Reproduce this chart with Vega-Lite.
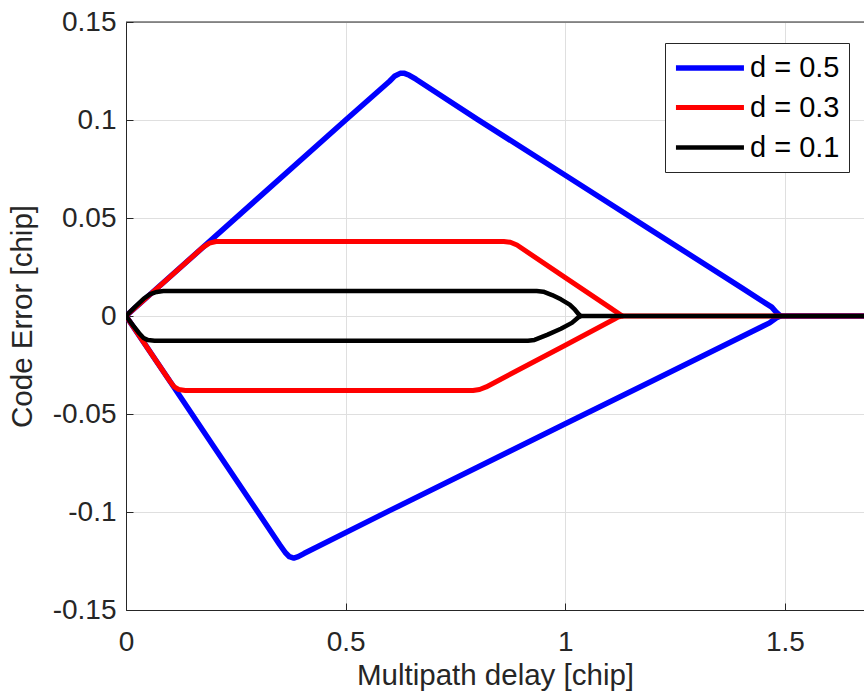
{
  "$schema": "https://vega.github.io/schema/vega-lite/v6.json",
  "width": 738,
  "height": 588,
  "autosize": {"type": "none"},
  "padding": {"left": 126, "top": 22, "right": 0, "bottom": 90},
  "background": "white",
  "config": {
    "view": {"stroke": null},
    "font": "Liberation Sans",
    "axis": {
      "domainColor": "#262626",
      "domainWidth": 1,
      "tickColor": "#262626",
      "tickSize": -7,
      "tickWidth": 1,
      "labelColor": "#262626",
      "labelFontSize": 28,
      "labelFont": "Liberation Sans",
      "titleColor": "#262626",
      "titleFont": "Liberation Sans",
      "titleFontSize": 29.5,
      "titleFontWeight": "normal",
      "grid": true,
      "gridColor": "#dfdfdf",
      "gridWidth": 1,
      "labelFlush": false,
      "labelOverlap": false
    },
    "legend": {
      "orient": "none",
      "legendX": 539,
      "legendY": 21,
      "title": null,
      "padding": 9,
      "rowPadding": 9,
      "strokeColor": "#262626",
      "fillColor": "white",
      "labelFont": "Liberation Sans",
      "labelFontSize": 29,
      "labelColor": "#000000",
      "labelOffset": 44,
      "symbolType": "M-1.08,0H4.15",
      "symbolSize": 676
    }
  },
  "data": {
    "values": [
      {"s": "d = 0.5", "b": "upper", "x": 0, "y": 0},
      {"s": "d = 0.5", "b": "upper", "x": 0.1, "y": 0.02},
      {"s": "d = 0.5", "b": "upper", "x": 0.3, "y": 0.06},
      {"s": "d = 0.5", "b": "upper", "x": 0.5, "y": 0.1},
      {"s": "d = 0.5", "b": "upper", "x": 0.6, "y": 0.1198},
      {"s": "d = 0.5", "b": "upper", "x": 0.612, "y": 0.1225},
      {"s": "d = 0.5", "b": "upper", "x": 0.624, "y": 0.1238},
      {"s": "d = 0.5", "b": "upper", "x": 0.634, "y": 0.1238},
      {"s": "d = 0.5", "b": "upper", "x": 0.645, "y": 0.1228},
      {"s": "d = 0.5", "b": "upper", "x": 0.66, "y": 0.1208},
      {"s": "d = 0.5", "b": "upper", "x": 0.8, "y": 0.1003},
      {"s": "d = 0.5", "b": "upper", "x": 1.0, "y": 0.0718},
      {"s": "d = 0.5", "b": "upper", "x": 1.2, "y": 0.0432},
      {"s": "d = 0.5", "b": "upper", "x": 1.4, "y": 0.0146},
      {"s": "d = 0.5", "b": "upper", "x": 1.47, "y": 0.0045},
      {"s": "d = 0.5", "b": "upper", "x": 1.48, "y": 0.002},
      {"s": "d = 0.5", "b": "upper", "x": 1.49, "y": 0},
      {"s": "d = 0.5", "b": "upper", "x": 1.7, "y": 0},
      {"s": "d = 0.5", "b": "lower", "x": 0, "y": 0},
      {"s": "d = 0.5", "b": "lower", "x": 0.1, "y": -0.0333},
      {"s": "d = 0.5", "b": "lower", "x": 0.2, "y": -0.0667},
      {"s": "d = 0.5", "b": "lower", "x": 0.3, "y": -0.1},
      {"s": "d = 0.5", "b": "lower", "x": 0.35, "y": -0.1167},
      {"s": "d = 0.5", "b": "lower", "x": 0.363, "y": -0.1208},
      {"s": "d = 0.5", "b": "lower", "x": 0.372, "y": -0.1228},
      {"s": "d = 0.5", "b": "lower", "x": 0.382, "y": -0.1235},
      {"s": "d = 0.5", "b": "lower", "x": 0.392, "y": -0.1228},
      {"s": "d = 0.5", "b": "lower", "x": 0.405, "y": -0.1212},
      {"s": "d = 0.5", "b": "lower", "x": 0.6, "y": -0.0993},
      {"s": "d = 0.5", "b": "lower", "x": 0.8, "y": -0.0772},
      {"s": "d = 0.5", "b": "lower", "x": 1.0, "y": -0.055},
      {"s": "d = 0.5", "b": "lower", "x": 1.2, "y": -0.0329},
      {"s": "d = 0.5", "b": "lower", "x": 1.4, "y": -0.0107},
      {"s": "d = 0.5", "b": "lower", "x": 1.465, "y": -0.0035},
      {"s": "d = 0.5", "b": "lower", "x": 1.48, "y": -0.001},
      {"s": "d = 0.5", "b": "lower", "x": 1.49, "y": 0},
      {"s": "d = 0.3", "b": "upper", "x": 0, "y": 0},
      {"s": "d = 0.3", "b": "upper", "x": 0.1, "y": 0.02},
      {"s": "d = 0.3", "b": "upper", "x": 0.175, "y": 0.035},
      {"s": "d = 0.3", "b": "upper", "x": 0.19, "y": 0.0372},
      {"s": "d = 0.3", "b": "upper", "x": 0.205, "y": 0.038},
      {"s": "d = 0.3", "b": "upper", "x": 0.5, "y": 0.038},
      {"s": "d = 0.3", "b": "upper", "x": 0.86, "y": 0.038},
      {"s": "d = 0.3", "b": "upper", "x": 0.875, "y": 0.0376},
      {"s": "d = 0.3", "b": "upper", "x": 0.89, "y": 0.0362},
      {"s": "d = 0.3", "b": "upper", "x": 1.0, "y": 0.0196},
      {"s": "d = 0.3", "b": "upper", "x": 1.1, "y": 0.0045},
      {"s": "d = 0.3", "b": "upper", "x": 1.12, "y": 0.0015},
      {"s": "d = 0.3", "b": "upper", "x": 1.13, "y": 0},
      {"s": "d = 0.3", "b": "upper", "x": 1.7, "y": 0},
      {"s": "d = 0.3", "b": "lower", "x": 0, "y": 0},
      {"s": "d = 0.3", "b": "lower", "x": 0.05, "y": -0.0167},
      {"s": "d = 0.3", "b": "lower", "x": 0.1, "y": -0.0333},
      {"s": "d = 0.3", "b": "lower", "x": 0.11, "y": -0.0362},
      {"s": "d = 0.3", "b": "lower", "x": 0.12, "y": -0.0375},
      {"s": "d = 0.3", "b": "lower", "x": 0.135, "y": -0.038},
      {"s": "d = 0.3", "b": "lower", "x": 0.5, "y": -0.038},
      {"s": "d = 0.3", "b": "lower", "x": 0.79, "y": -0.038},
      {"s": "d = 0.3", "b": "lower", "x": 0.805, "y": -0.0375},
      {"s": "d = 0.3", "b": "lower", "x": 0.82, "y": -0.0362},
      {"s": "d = 0.3", "b": "lower", "x": 1.0, "y": -0.0149},
      {"s": "d = 0.3", "b": "lower", "x": 1.11, "y": -0.0018},
      {"s": "d = 0.3", "b": "lower", "x": 1.12, "y": -0.0005},
      {"s": "d = 0.3", "b": "lower", "x": 1.13, "y": 0},
      {"s": "d = 0.1", "b": "upper", "x": 0, "y": 0},
      {"s": "d = 0.1", "b": "upper", "x": 0.02, "y": 0.0045},
      {"s": "d = 0.1", "b": "upper", "x": 0.04, "y": 0.0088},
      {"s": "d = 0.1", "b": "upper", "x": 0.055, "y": 0.0112},
      {"s": "d = 0.1", "b": "upper", "x": 0.07, "y": 0.0123},
      {"s": "d = 0.1", "b": "upper", "x": 0.085, "y": 0.0127},
      {"s": "d = 0.1", "b": "upper", "x": 0.5, "y": 0.0127},
      {"s": "d = 0.1", "b": "upper", "x": 0.935, "y": 0.0127},
      {"s": "d = 0.1", "b": "upper", "x": 0.95, "y": 0.0124},
      {"s": "d = 0.1", "b": "upper", "x": 0.97, "y": 0.0107},
      {"s": "d = 0.1", "b": "upper", "x": 0.99, "y": 0.0085},
      {"s": "d = 0.1", "b": "upper", "x": 1.01, "y": 0.0058},
      {"s": "d = 0.1", "b": "upper", "x": 1.022, "y": 0.0032},
      {"s": "d = 0.1", "b": "upper", "x": 1.03, "y": 0.001},
      {"s": "d = 0.1", "b": "upper", "x": 1.035, "y": 0},
      {"s": "d = 0.1", "b": "upper", "x": 1.7, "y": 0},
      {"s": "d = 0.1", "b": "lower", "x": 0, "y": 0},
      {"s": "d = 0.1", "b": "lower", "x": 0.015, "y": -0.0045},
      {"s": "d = 0.1", "b": "lower", "x": 0.03, "y": -0.0088},
      {"s": "d = 0.1", "b": "lower", "x": 0.04, "y": -0.0112},
      {"s": "d = 0.1", "b": "lower", "x": 0.05, "y": -0.0123},
      {"s": "d = 0.1", "b": "lower", "x": 0.065, "y": -0.0126},
      {"s": "d = 0.1", "b": "lower", "x": 0.5, "y": -0.0126},
      {"s": "d = 0.1", "b": "lower", "x": 0.915, "y": -0.0126},
      {"s": "d = 0.1", "b": "lower", "x": 0.93, "y": -0.0122},
      {"s": "d = 0.1", "b": "lower", "x": 0.96, "y": -0.0095},
      {"s": "d = 0.1", "b": "lower", "x": 0.99, "y": -0.0065},
      {"s": "d = 0.1", "b": "lower", "x": 1.015, "y": -0.0035},
      {"s": "d = 0.1", "b": "lower", "x": 1.028, "y": -0.001},
      {"s": "d = 0.1", "b": "lower", "x": 1.035, "y": 0}
    ]
  },
  "layer": [
    {
      "encoding": {
        "x": {
          "field": "x",
          "type": "quantitative",
          "title": "Multipath delay [chip]",
          "scale": {"domain": [0, 1.68], "nice": false, "zero": false},
          "axis": {
            "values": [0, 0.5, 1, 1.5],
            "labelPadding": 25,
            "titlePadding": 5,
            "labelExpr": "format(datum.value, '~g')"
          }
        },
        "y": {
          "field": "y",
          "type": "quantitative",
          "title": "Code Error [chip]",
          "scale": {"domain": [-0.15, 0.15], "nice": false, "zero": false},
          "axis": {
            "values": [-0.15, -0.1, -0.05, 0, 0.05, 0.1, 0.15],
            "labelPadding": 17,
            "titlePadding": 15,
            "labelExpr": "datum.value < 0 ? '-' + format(-datum.value, '~g') : format(datum.value, '~g')"
          }
        },
        "color": {
          "field": "s",
          "type": "nominal",
          "scale": {"domain": ["d = 0.5", "d = 0.3", "d = 0.1"], "range": ["#0000ff", "#ff0000", "#000000"]}
        },
        "strokeWidth": {
          "field": "s",
          "type": "nominal",
          "scale": {"domain": ["d = 0.5", "d = 0.3", "d = 0.1"], "range": [5.5, 4.5, 3.5]}
        },
        "detail": {"field": "b", "type": "nominal"}
      },
      "layer": [
        {
          "transform": [{"filter": "datum.s === 'd = 0.5'"}],
          "mark": {"type": "line", "strokeCap": "round", "strokeJoin": "round", "clip": true}
        },
        {
          "transform": [{"filter": "datum.s === 'd = 0.3'"}],
          "mark": {"type": "line", "strokeCap": "round", "strokeJoin": "round", "clip": true}
        },
        {
          "transform": [{"filter": "datum.s === 'd = 0.1'"}],
          "mark": {"type": "line", "strokeCap": "round", "strokeJoin": "round", "clip": true}
        }
      ]
    },
    {
      "data": {"values": [{"edge": 0.15}]},
      "mark": {"type": "rule", "color": "#262626", "strokeWidth": 1},
      "encoding": {
        "y": {"field": "edge", "type": "quantitative", "title": "Code Error [chip]"}
      }
    }
  ]
}
